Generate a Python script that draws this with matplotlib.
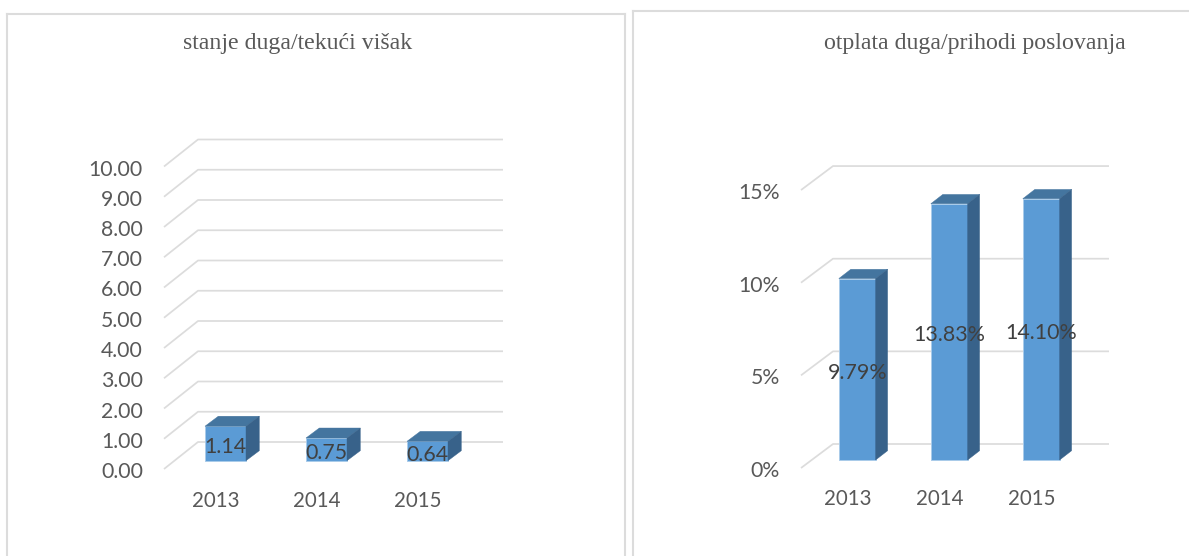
import matplotlib
matplotlib.use("Agg")
import matplotlib.pyplot as plt
from matplotlib.patches import Polygon

W, H = 1189, 556

YEARS = ["2013", "2014", "2015"]

DEBT_VALUES = [1.14, 0.75, 0.64]
DEBT_TICKS = [0, 1, 2, 3, 4, 5, 6, 7, 8, 9, 10]
DEBT_TITLE = "stanje duga/tekući višak"

REPAY_VALUES = [9.79, 13.83, 14.10]
REPAY_TICKS = [0, 5, 10, 15]
REPAY_TITLE = "otplata duga/prihodi poslovanja"

GRID = "#DCDCDC"
FRONT = "#5B9BD5"
TOP = "#44759F"
SIDE = "#38628A"
EDGE = "#A9CBEA"
TICK_TEXT = "#595959"
VALUE_TEXT = "#404040"

plt.rcParams["font.family"] = ["Lato", "DejaVu Sans"]


def draw_panel(fig, frame, layout, values, ticks, tick_fmt, value_fmt, title):
    left, right, top, bottom = frame
    ax = fig.add_axes([left / W, 1 - bottom / H, (right - left) / W, (bottom - top) / H])

    # data scale set from the pixel size of one category and one value unit
    x_unit, y_unit = layout["x_unit"], layout["y_unit"]
    ax.set_xlim((left - layout["x0"]) / x_unit, (right - layout["x0"]) / x_unit)
    ax.set_ylim((layout["y0"] - bottom) / y_unit, (layout["y0"] - top) / y_unit)
    ax.set_xticks([])
    ax.set_yticks([])
    ax.spines["bottom"].set_visible(False)
    for name in ["top", "left", "right"]:
        ax.spines[name].set_color(GRID)
        ax.spines[name].set_linewidth(1.5)

    def xpos(px):
        return (px - layout["x0"]) / x_unit

    # floor offsets of the wall relative to the bar baseline
    back_dy = layout["back_rise"] / y_unit
    front_dy = -layout["front_drop"] / y_unit
    for tick in ticks:
        ax.plot(
            [xpos(layout["grid_front"]), xpos(layout["grid_back"]), xpos(layout["grid_end"])],
            [tick + front_dy, tick + back_dy, tick + back_dy],
            color=GRID,
            linewidth=1.25,
            zorder=1,
            solid_capstyle="butt",
        )
        ax.annotate(
            tick_fmt.format(tick),
            (xpos(layout["tick_right"]), tick + front_dy),
            xytext=(0, -1),
            textcoords="offset pixels",
            ha="right",
            va="center_baseline",
            fontsize=15.3,
            color=TICK_TEXT,
        )

    positions = list(range(len(values)))
    half = layout["bar_width"] / 2
    depth_x = layout["depth_x"] / x_unit
    depth_y = layout["depth_y"] / y_unit
    ax.bar(positions, values, width=layout["bar_width"], color=FRONT, edgecolor=EDGE, linewidth=0.7, zorder=3)
    for pos, value in zip(positions, values):
        ax.add_patch(
            Polygon(
                [
                    (pos - half, value),
                    (pos + half, value),
                    (pos + half + depth_x, value + depth_y),
                    (pos - half + depth_x, value + depth_y),
                ],
                facecolor=TOP,
                edgecolor=TOP,
                linewidth=0.3,
                zorder=3,
            )
        )
        ax.add_patch(
            Polygon(
                [
                    (pos + half, 0),
                    (pos + half + depth_x, depth_y),
                    (pos + half + depth_x, value + depth_y),
                    (pos + half, value),
                ],
                facecolor=SIDE,
                edgecolor=SIDE,
                linewidth=0.3,
                zorder=3,
            )
        )
        ax.annotate(
            value_fmt.format(value),
            (pos, value / 2),
            xytext=(0, -1.5),
            textcoords="offset pixels",
            ha="center",
            va="center_baseline",
            fontsize=15.4,
            color=VALUE_TEXT,
            zorder=4,
        )
        ax.text(
            pos + layout["year_shift"] / x_unit,
            (layout["y0"] - layout["year_y"]) / y_unit,
            YEARS[pos],
            ha="center",
            va="center_baseline",
            fontsize=14.8,
            color=TICK_TEXT,
        )

    ax.text(
        xpos(layout["title_x"]),
        (layout["y0"] - 43) / y_unit,
        title,
        ha="center",
        va="center",
        fontsize=17.2,
        family=["Liberation Serif", "DejaVu Serif"],
        color=TICK_TEXT,
    )
    return ax


debt_layout = {
    "x0": 225.5, "x_unit": 101, "y0": 460.7, "y_unit": 30.25,
    "back_rise": 18.7, "front_drop": 8.3,
    "grid_front": 164, "grid_back": 198, "grid_end": 503, "tick_right": 143,
    "bar_width": 0.406, "depth_x": 13.3, "depth_y": 10,
    "year_shift": -10, "year_y": 499, "title_x": 298,
}
repay_layout = {
    "x0": 857.2, "x_unit": 92, "y0": 460, "y_unit": 18.53,
    "back_rise": 16, "front_drop": 8,
    "grid_front": 801, "grid_back": 833, "grid_end": 1109, "tick_right": 780,
    "bar_width": 0.40, "depth_x": 12, "depth_y": 9.3,
    "year_shift": -9, "year_y": 497, "title_x": 975,
}

fig = plt.figure(figsize=(W / 100, H / 100), dpi=100, facecolor="white")
draw_panel(fig, (7, 625, 14, 556), debt_layout, DEBT_VALUES, DEBT_TICKS, "{:.2f}", "{:.2f}", DEBT_TITLE)
draw_panel(fig, (633, 1195, 11, 556), repay_layout, REPAY_VALUES, REPAY_TICKS, "{:d}%", "{:.2f}%", REPAY_TITLE)
fig.savefig("out.png", dpi=100, facecolor="white")
plt.close(fig)
